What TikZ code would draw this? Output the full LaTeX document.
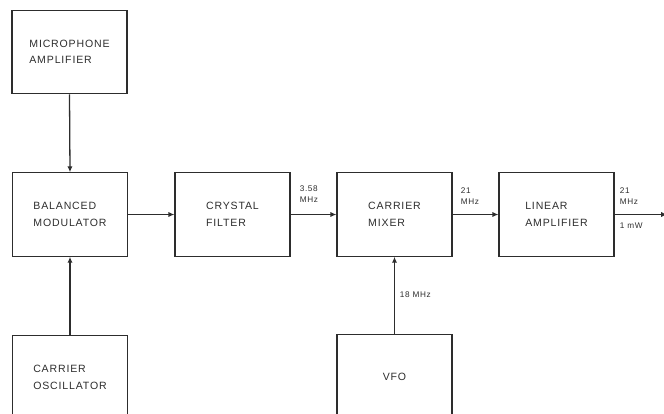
\documentclass[tikz,border=0pt]{standalone}
\usepackage{fontspec}
\setmainfont{Liberation Sans}[LetterSpace=8]
\usepackage{tikz}
\usetikzlibrary{arrows.meta,positioning}
\definecolor{ink}{RGB}{45,45,45}
\tikzset{
  blk/.style={draw=ink, line width=1.1pt, minimum width=3.45cm, minimum height=2.5cm, align=left, inner sep=0pt, text=ink, font=\fontsize{9}{14}\selectfont},
  sig/.style={draw=ink, line width=1.1pt, -{Latex[length=5pt,width=4.5pt]}},
  freq/.style={inner sep=0.5pt, align=left, text=ink, font=\fontsize{7}{9}\selectfont}
}

\begin{document}
\begin{tikzpicture}[x=0.03cm,y=-0.03cm]
\path[use as bounding box, clip] (0,0) rectangle (664,413);

% Blocks
\node[blk] (mic)  at (69.5,52)  {MICROPHONE\\AMPLIFIER};
\node[blk] (bal)  at (70,214.5) {BALANCED\\MODULATOR};
\node[blk] (xtal) at (232.5,214.5) {CRYSTAL\\FILTER};
\node[blk] (mix)  at (394.5,214.5) {CARRIER\\MIXER};
\node[blk] (lin)  at (556.5,214.5) {LINEAR\\AMPLIFIER};
\node[blk] (osc)  at (70,377.5) {CARRIER\\OSCILLATOR};
\node[blk] (vfo)  at (394.5,376.5) {VFO};
\coordinate (out) at (667,214.5);

% Signal path
\draw[sig] (mic.south) -- (bal.north);
\draw[sig] (osc.north) -- (bal.south);
\draw[sig] (bal.east) -- (xtal.west);
\draw[sig] (xtal.east) -- (mix.west);
\draw[sig] (mix.east) -- (lin.west);
\draw[sig] (lin.east) -- (out);
\draw[sig] (vfo.north) -- (mix.south);

% Frequencies
\node[freq, anchor=south west] (f358) at (299,203) {3.58\\MHz};
\node[freq, anchor=south west] (f21a) at (460,205) {21\\MHz};
\node[freq, anchor=south west] (f21b) at (619,205) {21\\MHz};
\node[freq, anchor=north west] (p1mw) at (619,222) {1 mW};
\node[freq, anchor=west] (f18) at (399,295) {18 MHz};
\end{tikzpicture}
\end{document}
